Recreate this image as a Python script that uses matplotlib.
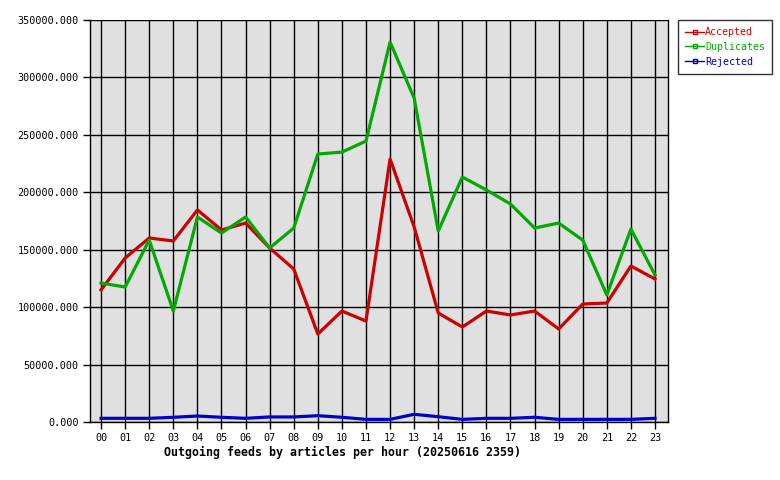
import matplotlib
matplotlib.use("Agg")
import matplotlib.pyplot as plt
from matplotlib.ticker import FuncFormatter, MultipleLocator

hours = ["%02d" % h for h in range(24)]

accepted = [115000, 142800, 160200, 157600, 184600, 167200, 173200, 151500,
            133200, 76600, 96600, 87900, 229000, 169800, 94900, 82700,
            96600, 93200, 96600, 81000, 102700, 103600, 135800, 124500]
duplicates = [121000, 117500, 158400, 96600, 178500, 164500, 178500, 151500,
              168900, 233300, 235000, 244600, 330800, 282000, 166300, 213300,
              202000, 189800, 168900, 173200, 158400, 110600, 168000, 128000]
rejected = [3200, 3200, 3200, 4100, 5200, 4100, 3200, 4400,
            4400, 5500, 4100, 2300, 2300, 6700, 4600, 2300,
            3200, 3200, 4100, 2300, 2300, 2300, 2300, 3200]

series = [("Accepted", accepted, "#cc0000"),
          ("Duplicates", duplicates, "#00aa00"),
          ("Rejected", rejected, "#0000cc")]

plt.rcParams['font.family'] = ['DejaVu Sans Mono']

fig = plt.figure(figsize=(7.8, 4.8), dpi=100)
ax = fig.add_axes([90/780, 1 - 422/480, 578/780, 402/480])
ax.set_facecolor("#e0e0e0")

x = list(range(len(hours)))
for name, vals, col in series:
    ax.plot(x, vals, color=col, lw=2.3, label=name, zorder=3)

ax.set_xlim(-0.46, 23.54)
ax.set_ylim(0, 350000)
ax.set_xticks(x)
ax.set_xticklabels(hours)
ax.yaxis.set_major_locator(MultipleLocator(50000))
ax.yaxis.set_major_formatter(FuncFormatter(lambda v, p: "%.3f" % v))
ax.grid(True, color="black", lw=1, zorder=1)
ax.set_axisbelow(True)
ax.tick_params(direction="out", length=5, width=1, labelsize=7.3, pad=3)
for s in ax.spines.values():
    s.set_linewidth(1)
ax.spines['top'].set_visible(False)

# title sits under the axis, a bit left of the plot centre
fig.text(343/780, 1 - 452/480,
         "Outgoing feeds by articles per hour (20250616 2359)",
         fontsize=8.4, fontweight="bold", ha="center", va="center")

handles = []
for name, vals, col in series:
    h, = ax.plot([], [], color=col, lw=1, marker="s", markersize=2.5,
                 markerfacecolor="none", markeredgecolor=col, label=name)
    handles.append(h)
leg = fig.legend(handles=handles, loc="upper left",
                 bbox_to_anchor=(678/780, 1 - 20/480), fontsize=7.2,
                 labelcolor="linecolor", frameon=True, fancybox=False,
                 handlelength=1.9, handletextpad=0.12, borderpad=0.7,
                 labelspacing=0.48, borderaxespad=0)
leg.get_frame().set_edgecolor("black")
leg.get_frame().set_linewidth(1)

fig.savefig("out.png", dpi=100)
